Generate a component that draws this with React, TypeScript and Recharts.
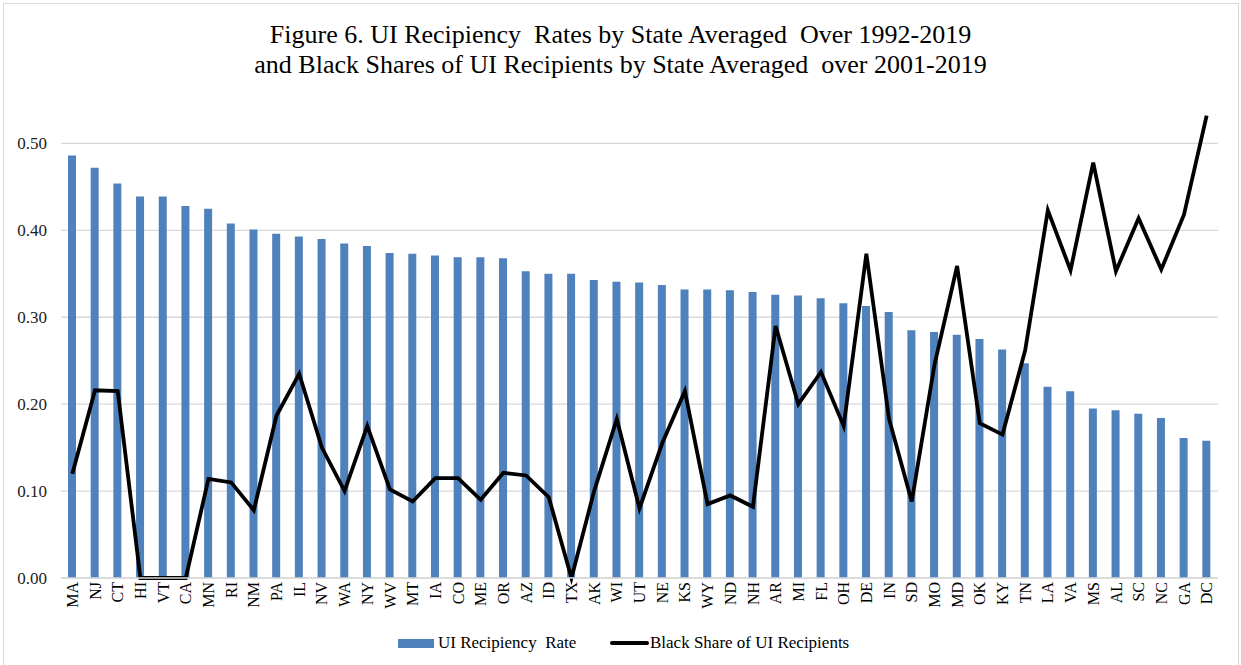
import { ComposedChart, Bar, Line, XAxis, YAxis, CartesianGrid } from "recharts";

const states = [
  "MA", "NJ", "CT", "HI", "VT", "CA", "MN", "RI", "NM", "PA", "IL", "NV", "WA",
  "NY", "WV", "MT", "IA", "CO", "ME", "OR", "AZ", "ID", "TX", "AK", "WI", "UT",
  "NE", "KS", "WY", "ND", "NH", "AR", "MI", "FL", "OH", "DE", "IN", "SD", "MO",
  "MD", "OK", "KY", "TN", "LA", "VA", "MS", "AL", "SC", "NC", "GA", "DC",
];

const recipiencyRate = [
  0.486, 0.472, 0.454, 0.439, 0.439, 0.428, 0.425, 0.408, 0.401, 0.396, 0.393,
  0.39, 0.385, 0.382, 0.374, 0.373, 0.371, 0.369, 0.369, 0.368, 0.353, 0.35,
  0.35, 0.343, 0.341, 0.34, 0.337, 0.332, 0.332, 0.331, 0.329, 0.326, 0.325,
  0.322, 0.316, 0.313, 0.306, 0.285, 0.283, 0.28, 0.275, 0.263, 0.247, 0.22,
  0.215, 0.195, 0.193, 0.189, 0.184, 0.161, 0.158,
];

const blackShare = [
  0.12, 0.216, 0.215, 0, 0, 0, 0.114, 0.11, 0.078, 0.187, 0.235, 0.15, 0.1,
  0.175, 0.102, 0.088, 0.115, 0.115, 0.09, 0.121, 0.118, 0.093, 0, 0.1, 0.183,
  0.08, 0.155, 0.215, 0.085, 0.095, 0.082, 0.29, 0.2, 0.237, 0.175, 0.373,
  0.183, 0.088, 0.245, 0.359, 0.178, 0.165, 0.262, 0.423, 0.354, 0.478, 0.353,
  0.414, 0.355, 0.418, 0.532,
];

const yTicks = [0, 0.1, 0.2, 0.3, 0.4, 0.5];

const data = states.map((s, i) => ({
  state: s,
  rate: recipiencyRate[i],
  share: blackShare[i],
}));

const serif = "'Liberation Serif', 'Times New Roman', serif";

const StateTick = ({ x, y, payload }: any) => (
  <text
    x={x}
    y={y}
    transform={`rotate(-90 ${x} ${y})`}
    textAnchor="end"
    dy="0.35em"
    fontSize={16}
    fontFamily={serif}
    fill="#000"
  >
    {payload.value}
  </text>
);

export default function App() {
  return (
    <div
      style={{
        position: "absolute",
        left: 0,
        top: 0,
        width: 1241,
        height: 665,
        background: "#fff",
        overflow: "hidden",
        fontFamily: serif,
      }}
    >
      <div
        style={{
          position: "absolute",
          left: 3,
          top: 3,
          width: 1234,
          height: 680,
          border: "1px solid #d9d9d9",
        }}
      />
      <div
        style={{
          position: "absolute",
          top: 20,
          left: 0,
          width: 1241,
          textAlign: "center",
          fontSize: 26,
          lineHeight: "30px",
          color: "#000",
        }}
      >
        <div>Figure 6. UI Recipiency&nbsp; Rates by State Averaged&nbsp; Over 1992-2019</div>
        <div>and Black Shares of UI Recipients by State Averaged&nbsp; over 2001-2019</div>
      </div>
      <div style={{ position: "absolute", top: 0, left: 0 }}>
        <ComposedChart
          width={1241}
          height={665}
          data={data}
          margin={{ top: 100, right: 23, bottom: 47, left: 0 }}
          barCategoryGap={0}
        >
          <CartesianGrid
            vertical={false}
            horizontalValues={yTicks}
            stroke="#d9d9d9"
            strokeWidth={1.3}
          />
          <XAxis
            dataKey="state"
            interval={0}
            tick={<StateTick />}
            tickLine={false}
            axisLine={{ stroke: "#d9d9d9", strokeWidth: 1.3 }}
            tickSize={0}
            tickMargin={4}
            height={40}
          />
          <YAxis
            domain={[0, 0.55]}
            ticks={yTicks}
            tickFormatter={(v: number) => v.toFixed(2)}
            axisLine={false}
            tickLine={false}
            tickSize={0}
            tickMargin={14}
            width={61}
            tick={{ fontSize: 17, fontFamily: serif, fill: "#222" }}
          />
          <Bar dataKey="rate" fill="#4f81bd" barSize={8} isAnimationActive={false} />
          <Line
            dataKey="share"
            type="linear"
            stroke="#000"
            strokeWidth={3.8}
            dot={false}
            activeDot={false}
            isAnimationActive={false}
          />
        </ComposedChart>
      </div>
      <div
        style={{
          position: "absolute",
          top: 632,
          left: 0,
          height: 22,
          width: 1241,
          fontSize: 17,
          color: "#000",
        }}
      >
        <div
          style={{
            position: "absolute",
            left: 398,
            top: 7,
            width: 36,
            height: 9,
            background: "#4f81bd",
          }}
        />
        <div style={{ position: "absolute", left: 438, top: 0, lineHeight: "22px", whiteSpace: "pre" }}>
          UI Recipiency  Rate
        </div>
        <div
          style={{
            position: "absolute",
            left: 610,
            top: 9,
            width: 39,
            height: 4,
            borderRadius: 2,
            background: "#000",
          }}
        />
        <div style={{ position: "absolute", left: 650, top: 0, lineHeight: "22px", whiteSpace: "pre" }}>
          Black Share of UI Recipients
        </div>
      </div>
    </div>
  );
}
